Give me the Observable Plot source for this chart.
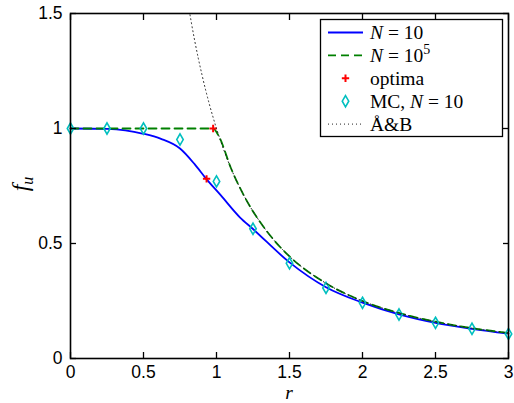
<!DOCTYPE html>
<html><head><meta charset="utf-8">
<script src="https://cdn.jsdelivr.net/npm/d3@7"></script>
<script src="https://cdn.jsdelivr.net/npm/@observablehq/plot@0.6"></script>
<style>body{margin:0;background:#fff} #chart{position:relative;width:514px;height:403px}</style>
</head><body><div id="chart"></div><script>
// N = 10 curve
const rN10 = [0, 0.25, 0.375, 0.5, 0.62, 0.75, 0.85, 0.93, 1.03, 1.16, 1.25, 1.5, 1.75, 2, 2.25, 2.5, 2.75, 3];
const fN10 = [1, 0.998, 0.992, 0.977, 0.955, 0.913, 0.845, 0.781, 0.709, 0.614, 0.563, 0.418, 0.31, 0.243, 0.192, 0.155, 0.129, 0.108];
// N = 10^5 curve
const rN5 = [0, 0.977, 1.02, 1.1, 1.2, 1.3, 1.4, 1.5, 1.75, 2, 2.25, 2.5, 2.75, 3];
const fN5 = [1, 1, 0.961, 0.826, 0.694, 0.592, 0.51, 0.444, 0.327, 0.25, 0.198, 0.16, 0.132, 0.111];
// optima
const rOpt = [0.977, 0.932];
const fOpt = [1, 0.781];
// MC, N = 10
const rMC = [0, 0.25, 0.5, 0.75, 1, 1.25, 1.5, 1.75, 2, 2.25, 2.5, 2.75, 3];
const fMC = [1, 1, 1, 0.952, 0.77, 0.564, 0.414, 0.307, 0.242, 0.191, 0.155, 0.129, 0.107];
// Å&B
const rAB = [0.8, 0.85, 0.9, 0.95, 1, 1.1, 1.2, 1.3, 1.4, 1.5, 1.75, 2, 2.25, 2.5, 2.75, 3];
const fAB = [1.563, 1.384, 1.235, 1.108, 1, 0.826, 0.694, 0.592, 0.51, 0.444, 0.327, 0.25, 0.198, 0.16, 0.132, 0.111];
// ticks
const xTicks = [0, 0.5, 1, 1.5, 2, 2.5, 3];
const xTickLabels = ["0", "0.5", "1", "1.5", "2", "2.5", "3"];
const yTicks = [0, 0.5, 1, 1.5];
const yTickLabels = ["0", "0.5", "1", "1.5"];

const zip = (rs, fs) => rs.map((r, i) => ({r, f: fs[i]}));
const blue = zip(rN10, fN10), green = zip(rN5, fN5), opt = zip(rOpt, fOpt), mc = zip(rMC, fMC), ab = zip(rAB, fAB);
const blank = () => "";

const plot = Plot.plot({
  width: 514, height: 403,
  marginLeft: 70, marginRight: 6, marginTop: 13, marginBottom: 45,
  style: {fontFamily: "'Liberation Sans', Arial, sans-serif", fontSize: "17.5px", background: "white", overflow: "visible", color: "black"},
  x: {domain: [0, 3], label: null},
  y: {domain: [0, 1.5], label: null},
  marks: [
    Plot.line(blue, {x: "r", y: "f", stroke: "#0000ff", strokeWidth: 1.8, curve: "monotone-x"}),
    Plot.line(green, {x: "r", y: "f", stroke: "#008000", strokeWidth: 1.8, strokeDasharray: "8,5", curve: "monotone-x"}),
    Plot.dot(opt, {x: "r", y: "f", symbol: "plus", r: 2.5, stroke: "#ff0000", strokeWidth: 2}),
    Plot.dot(mc, {x: "r", y: "f", symbol: "diamond", r: 3.4, stroke: "#00bfbf", strokeWidth: 1.6, fill: "none"}),
    Plot.line(ab, {x: "r", y: "f", stroke: "#222", strokeWidth: 1, strokeDasharray: "1,3", curve: "monotone-x", clip: true}),
    Plot.frame({stroke: "black", strokeWidth: 1.6}),
    Plot.axisX({anchor: "bottom", ticks: xTicks, tickSize: 0, tickPadding: 7, tickFormat: d => xTickLabels[xTicks.indexOf(d)], label: null}),
    Plot.axisX({anchor: "bottom", ticks: xTicks, tickSize: 6, dy: -6, tickFormat: blank, label: null, strokeWidth: 1.3}),
    Plot.axisX({anchor: "top", ticks: xTicks, tickSize: 6, dy: 6, tickFormat: blank, label: null, strokeWidth: 1.3}),
    Plot.axisY({anchor: "left", ticks: yTicks, tickSize: 0, tickPadding: 8, tickFormat: d => yTickLabels[yTicks.indexOf(d)], label: null}),
    Plot.axisY({anchor: "left", ticks: yTicks, tickSize: 6, dx: 6, tickFormat: blank, label: null, strokeWidth: 1.3}),
    Plot.axisY({anchor: "right", ticks: yTicks, tickSize: 6, dx: -6, tickFormat: blank, label: null, strokeWidth: 1.3})
  ]
});
document.getElementById("chart").appendChild(plot);

const svg = d3.select(plot);
const serif = "'Liberation Serif', 'Times New Roman', serif";
// axis labels
svg.append("text").attr("x", 289).attr("y", 398.5).attr("text-anchor", "middle")
  .attr("font-family", serif).attr("font-size", 19.5).attr("font-style", "italic").attr("fill", "black").text("r");
const yl = svg.append("text").attr("transform", "translate(28,184) rotate(-90)").attr("text-anchor", "middle")
  .attr("font-family", serif).attr("font-size", 24).attr("fill", "black");
yl.append("tspan").attr("font-style", "italic").text("f");
yl.append("tspan").attr("font-style", "italic").attr("font-size", 16).attr("dy", 5).text("u");

// legend
const lg = svg.append("g").attr("font-family", serif).attr("font-size", 19.5).attr("fill", "black").attr("text-anchor", "start");
lg.append("rect").attr("x", 320.5).attr("y", 19.5).attr("width", 182).attr("height", 117)
  .attr("fill", "white").attr("stroke", "black").attr("stroke-width", 1.3);
const rowY = i => 32.5 + i * 22.9;
const x0 = 328, x1 = 363, xm = 345.5, xt = 370;
lg.append("line").attr("x1", x0).attr("x2", x1).attr("y1", rowY(0)).attr("y2", rowY(0)).attr("stroke", "#0000ff").attr("stroke-width", 1.8);
lg.append("line").attr("x1", x0).attr("x2", x1).attr("y1", rowY(1)).attr("y2", rowY(1)).attr("stroke", "#008000").attr("stroke-width", 1.8).attr("stroke-dasharray", "8,5");
lg.append("path").attr("d", d3.symbol(d3.symbolPlus, Math.PI * 2.5 * 2.5)()).attr("transform", `translate(${xm},${rowY(2)})`).attr("fill", "none").attr("stroke", "#ff0000").attr("stroke-width", 2);
lg.append("path").attr("d", d3.symbol(d3.symbolDiamond, Math.PI * 3.4 * 3.4)()).attr("transform", `translate(${xm},${rowY(3)})`).attr("fill", "none").attr("stroke", "#00bfbf").attr("stroke-width", 1.6);
lg.append("line").attr("x1", x0).attr("x2", x1).attr("y1", rowY(4)).attr("y2", rowY(4)).attr("stroke", "#222").attr("stroke-width", 1).attr("stroke-dasharray", "1,3");

function label(i) { return lg.append("text").attr("x", xt).attr("y", rowY(i)).attr("dy", "0.35em").attr("text-anchor", "start"); }
let t = label(0); t.append("tspan").attr("font-style", "italic").text("N"); t.append("tspan").text(" = 10");
t = label(1); t.append("tspan").attr("font-style", "italic").text("N"); t.append("tspan").text(" = 10");
t.append("tspan").attr("font-size", 14).attr("dy", -8).text("5");
t = label(2); t.text("optima");
t = label(3); t.append("tspan").text("MC, "); t.append("tspan").attr("font-style", "italic").text("N"); t.append("tspan").text(" = 10");
t = label(4); t.text("Å&B");
</script></body></html>
